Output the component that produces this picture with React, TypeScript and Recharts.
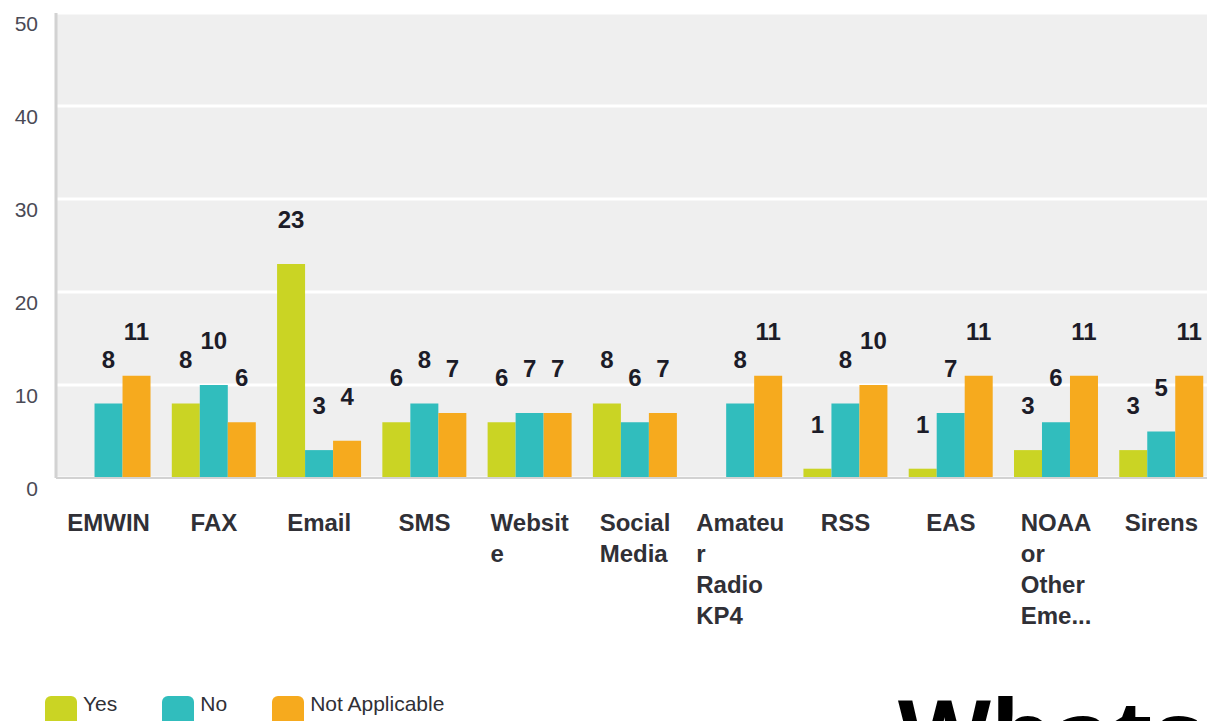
import React from 'react';
import { BarChart, Bar, XAxis, YAxis, CartesianGrid, LabelList } from 'recharts';

const categories = ['EMWIN', 'FAX', 'Email', 'SMS', 'Website', 'Social Media', 'Amateur Radio KP4', 'RSS', 'EAS', 'NOAA or Other Eme...', 'Sirens'];
const categoryLines: string[][] = [
  ['EMWIN'], ['FAX'], ['Email'], ['SMS'], ['Websit', 'e'], ['Social', 'Media'],
  ['Amateu', 'r', 'Radio', 'KP4'], ['RSS'], ['EAS'], ['NOAA', 'or', 'Other', 'Eme...'], ['Sirens'],
];
const yesValues = [0, 8, 23, 6, 6, 8, 0, 1, 1, 3, 3];
const noValues = [8, 10, 3, 8, 7, 6, 8, 8, 7, 6, 5];
const naValues = [11, 6, 4, 7, 7, 7, 11, 10, 11, 11, 11];
const yTicks = [0, 10, 20, 30, 40, 50];

const seriesNames = ['Yes', 'No', 'Not Applicable'];
const seriesKeys = ['yes', 'no', 'na'];
const seriesColors = ['#cad424', '#31bdbd', '#f6aa1e'];

const data = categories.map((c, i) => ({
  name: c,
  idx: i,
  yes: yesValues[i],
  no: noValues[i],
  na: naValues[i],
}));

let ctx: CanvasRenderingContext2D | null = null;
function measure(text: string, font: string): number {
  if (!ctx) {
    const c = document.createElement('canvas');
    ctx = c.getContext('2d');
  }
  if (!ctx) return text.length * 14;
  ctx.font = font;
  return ctx.measureText(text).width;
}

const X_FONT = "bold 24px 'Liberation Sans', Arial, sans-serif";

const XTick = (props: any) => {
  const { x, y, payload } = props;
  const i = categories.indexOf(payload.value);
  const lines = i >= 0 ? categoryLines[i] : [String(payload.value)];
  const w = Math.max(...lines.map((l) => measure(l, X_FONT)));
  return (
    <g>
      {lines.map((l, k) => (
        <text
          key={k}
          x={x - w / 2}
          y={y + 45 + k * 31}
          textAnchor="start"
          fontFamily="'Liberation Sans', Arial, sans-serif"
          fontWeight="bold"
          fontSize={24}
          fill="#303036"
        >
          {l}
        </text>
      ))}
    </g>
  );
};

const YTick = (props: any) => {
  const { y, payload } = props;
  return (
    <text
      x={38}
      y={y + 10}
      textAnchor="end"
      dominantBaseline="central"
      fontFamily="'Liberation Sans', Arial, sans-serif"
      fontSize={21}
      fill="#4a4a55"
    >
      {payload.value}
    </text>
  );
};

const labelFmt = (v: any) => (v ? String(v) : '');

export default function App() {
  return (
    <div style={{ position: 'fixed', left: 0, top: 0, width: 1207, height: 721, overflow: 'hidden', background: '#fff' }}>
      <BarChart
        width={1215}
        height={721}
        data={data}
        margin={{ top: 13, right: 1, left: 0, bottom: 0 }}
        barCategoryGap="10%"
        barGap={0}
      >
        <CartesianGrid vertical={false} fill="#efefef" stroke="#ffffff" strokeWidth={3} />
        <XAxis
          dataKey="name"
          height={243}
          interval={0}
          tickLine={false}
          axisLine={{ stroke: '#d2d2d2', strokeWidth: 2 }}
          tick={<XTick />}
        />
        <YAxis
          width={56}
          domain={[0, 50]}
          ticks={yTicks}
          tickLine={false}
          axisLine={{ stroke: '#d2d2d2', strokeWidth: 3 }}
          tick={<YTick />}
        />
        {seriesKeys.map((k, i) => (
          <Bar key={k} dataKey={k} name={seriesNames[i]} fill={seriesColors[i]} isAnimationActive={false}>
            <LabelList
              dataKey={k}
              position="top"
              offset={36}
              formatter={labelFmt}
              fontFamily="'Liberation Sans', Arial, sans-serif"
              fontWeight="bold"
              fontSize={24}
              fill="#1c1c28"
            />
          </Bar>
        ))}
      </BarChart>
      <div style={{ position: 'absolute', left: 45, top: 692, display: 'flex', fontFamily: "'Liberation Sans', Arial, sans-serif", fontSize: 21, color: '#303036' }}>
        {seriesNames.map((n, i) => (
          <div key={n} style={{ display: 'flex', alignItems: 'flex-start', marginRight: 45 }}>
            <div style={{ width: 32, height: 40, marginTop: 4, borderRadius: 6, background: seriesColors[i], marginRight: 6 }} />
            <span style={{ lineHeight: '24px' }}>{n}</span>
          </div>
        ))}
      </div>
      <div style={{ position: 'absolute', left: 898, top: 685, fontFamily: "'Open Sans', 'Noto Sans', sans-serif", fontWeight: 700, fontSize: 96, lineHeight: 1, color: '#000', whiteSpace: 'nowrap' }}>
        Whats
      </div>
    </div>
  );
}
